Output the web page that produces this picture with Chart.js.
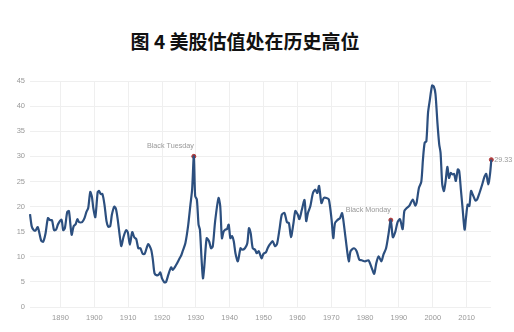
<!DOCTYPE html>
<html><head><meta charset="utf-8">
<script src="https://cdn.jsdelivr.net/npm/chart.js@4.4.1/dist/chart.umd.min.js"></script>
<style>
html,body{margin:0;padding:0;background:#fff;}
#wrap{position:relative;width:514px;height:332px;}
#title{position:absolute;left:0;width:490px;top:29px;text-align:center;font-family:"Noto Sans CJK SC",sans-serif;font-weight:bold;font-size:19px;line-height:24px;color:#111;}
canvas{position:absolute;left:0;top:0;}
</style></head>
<body><div id="wrap"><div id="title">图 4 美股估值处在历史高位</div><canvas id="c" width="514" height="332"></canvas></div>
<script>
const years = [1881.0,1881.5,1882.1,1882.6,1883.3,1884.3,1884.9,1885.6,1886.3,1886.9,1887.5,1888.1,1888.7,1889.3,1890.3,1890.8,1891.3,1892.0,1892.5,1893.3,1893.9,1894.5,1895.0,1895.5,1896.4,1897.1,1897.7,1898.2,1898.8,1899.3,1899.7,1900.3,1901.0,1901.4,1901.9,1902.4,1903.0,1903.6,1904.1,1904.7,1905.2,1905.9,1906.4,1906.9,1907.6,1908.0,1908.6,1909.4,1909.9,1910.5,1911.2,1911.8,1912.4,1913.0,1913.6,1914.3,1914.9,1915.9,1916.8,1917.3,1917.8,1918.5,1919.1,1919.5,1920.0,1920.7,1921.2,1921.9,1922.7,1923.2,1924.2,1925.2,1925.7,1926.2,1926.9,1927.7,1928.4,1928.9,1929.4,1929.8,1930.3,1930.8,1931.2,1931.7,1932.1,1932.5,1933.2,1933.9,1934.5,1935.0,1935.7,1936.7,1937.2,1937.7,1938.2,1938.7,1939.2,1939.7,1940.2,1940.7,1941.2,1941.7,1942.4,1943.2,1943.7,1944.5,1945.2,1945.7,1946.2,1946.8,1947.5,1948.0,1948.6,1949.4,1950.0,1950.7,1951.2,1951.9,1952.7,1953.4,1954.0,1954.7,1955.4,1956.2,1956.9,1957.5,1958.1,1958.8,1959.4,1960.1,1960.6,1961.3,1962.1,1962.6,1963.1,1963.8,1964.6,1965.3,1965.9,1966.4,1967.1,1967.8,1968.6,1969.3,1970.1,1970.6,1971.1,1971.8,1972.6,1973.2,1973.8,1974.6,1975.2,1975.7,1976.7,1977.5,1978.3,1979.0,1980.0,1981.0,1982.0,1982.7,1983.3,1984.0,1984.8,1985.4,1986.2,1986.9,1987.6,1988.2,1988.9,1989.6,1990.3,1991.1,1991.6,1992.3,1993.1,1994.1,1994.8,1995.2,1995.9,1996.6,1997.1,1997.6,1998.1,1998.6,1999.1,1999.8,2000.3,2000.8,2001.4,2001.9,2002.3,2002.8,2003.3,2003.8,2004.3,2004.8,2005.3,2005.8,2006.3,2006.8,2007.4,2007.8,2008.3,2008.8,2009.4,2009.8,2010.3,2010.8,2011.3,2011.8,2012.6,2013.1,2013.8,2014.6,2015.3,2015.8,2016.4,2016.9,2017.3];
const cape = [18.5,16.1,15.3,15.2,15.9,13.2,13.0,14.7,17.7,17.3,17.3,15.3,15.4,16.5,17.4,15.3,15.7,18.9,19.1,14.4,16.1,16.5,17.5,16.9,16.9,17.7,19.0,19.7,22.9,21.9,19.7,17.9,22.9,23.1,22.5,22.5,20.4,17.1,16.0,16.1,18.4,20.0,19.5,17.5,13.7,12.1,13.9,15.3,14.9,12.4,14.9,13.9,13.5,11.7,11.7,10.6,10.6,12.5,11.4,9.4,6.7,6.3,6.5,6.9,5.7,4.9,5.0,6.5,7.9,7.4,8.4,9.7,10.3,11.3,12.7,16.1,20.4,23.4,30.0,22.1,21.4,16.4,15.4,9.4,5.7,8.1,13.7,13.1,11.7,12.1,17.1,21.7,20.1,13.7,15.0,15.4,15.5,16.4,13.7,14.1,13.1,10.7,9.1,11.7,11.4,11.7,12.7,15.7,14.7,11.7,11.4,10.7,11.1,9.7,10.6,10.9,11.7,12.5,13.1,12.1,12.6,15.4,18.4,18.7,16.9,16.7,13.9,16.5,19.1,18.4,17.5,19.3,21.3,17.1,18.7,20.0,22.7,23.4,22.7,24.1,20.7,21.7,21.7,21.4,17.4,13.7,16.7,17.3,17.7,18.7,16.1,11.7,9.1,11.1,11.7,11.1,9.4,9.3,9.1,9.3,7.7,6.6,8.7,10.1,9.1,10.4,11.7,14.4,17.3,13.9,14.9,16.9,17.5,15.5,19.1,19.7,20.2,21.4,20.2,20.7,23.7,24.9,29.4,32.7,33.0,38.7,41.1,44.1,43.9,42.4,36.4,32.4,30.7,24.4,23.1,25.1,27.9,25.7,26.7,26.4,26.5,25.1,27.4,27.1,23.4,19.7,15.4,17.7,20.4,20.1,23.1,22.4,21.2,21.4,22.7,24.4,26.0,26.5,24.4,26.4,29.33];
const eventYears = [1929.4, 1987.6, 2017.3];
const eventValues = [30.0, 17.3, 29.33];
const eventLabels = ["Black Tuesday", "Black Monday", "29.33"];
const xTicks = [1890,1900,1910,1920,1930,1940,1950,1960,1970,1980,1990,2000,2010];
const yTicks = [0,5,10,15,20,25,30,35,40,45];

const labelPlugin = {
  id: 'eventLabels',
  afterDatasetsDraw(chart) {
    const ctx = chart.ctx;
    const meta = chart.getDatasetMeta(1);
    ctx.save();
    ctx.font = '7.2px "Liberation Sans", Arial, sans-serif';
    ctx.fillStyle = '#999';
    meta.data.forEach((pt, i) => {
      if (i === eventLabels.length - 1) {
        ctx.textAlign = 'left'; ctx.textBaseline = 'middle';
        ctx.fillText(eventLabels[i], pt.x + 3, pt.y);
      } else {
        ctx.textAlign = 'right'; ctx.textBaseline = 'middle';
        ctx.fillText(eventLabels[i], pt.x, pt.y - 10);
      }
    });
    ctx.restore();
  }
};

new Chart(document.getElementById('c'), {
  type: 'line',
  data: {
    datasets: [{
      data: years.map((y, i) => ({x: y, y: cape[i]})),
      borderColor: '#2c4f7f',
      borderWidth: 2.2,
      pointRadius: 0,
      tension: 0.25,
      clip: false
    }, {
      type: 'scatter',
      data: eventYears.map((y, i) => ({x: y, y: eventValues[i]})),
      backgroundColor: '#b03a3a',
      borderColor: '#b03a3a',
      pointRadius: 2,
      clip: false
    }]
  },
  options: {
    responsive: false,
    animation: false,
    layout: {padding: {top: 81, right: 23, bottom: 0, left: 0}},
    plugins: {legend: {display: false}, tooltip: {enabled: false}},
    scales: {
      x: {
        type: 'linear', min: 1881, max: 2017.2,
        afterBuildTicks: s => { s.ticks = xTicks.map(v => ({value: v})); },
        afterFit: s => { s.height = 25; },
        grid: {color: '#efefef', drawTicks: false},
        border: {display: false},
        ticks: {color: '#999', padding: 6, font: {size: 7.5, family: '"Liberation Sans", Arial, sans-serif'}, maxRotation: 0, callback: v => String(v)}
      },
      y: {
        min: 0, max: 45,
        afterBuildTicks: s => { s.ticks = yTicks.map(v => ({value: v})); },
        afterFit: s => { s.width = 30; },
        grid: {color: '#efefef', drawTicks: false},
        border: {display: false},
        ticks: {color: '#999', padding: 5, font: {size: 7.5, family: '"Liberation Sans", Arial, sans-serif'}, callback: v => String(v)}
      }
    }
  },
  plugins: [labelPlugin]
});
</script>
</body></html>
